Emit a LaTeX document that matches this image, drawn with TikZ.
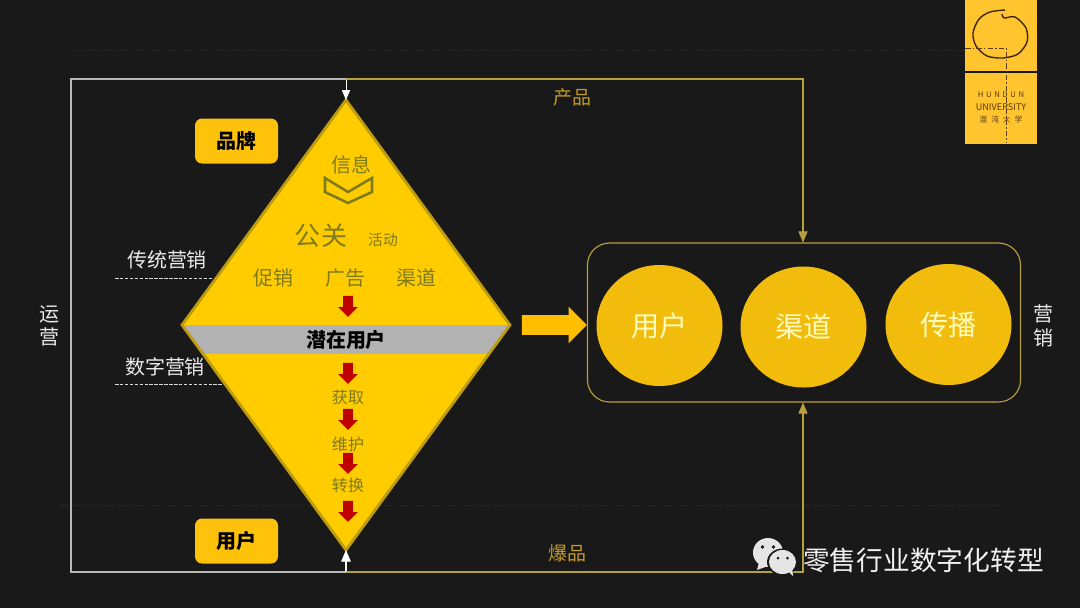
\documentclass[tikz,border=0pt]{standalone}
\usepackage{fontspec}
\setmainfont{Noto Sans CJK SC}
\usepackage{tikz}
\usetikzlibrary{arrows,shapes,positioning}

\definecolor{bgdark}{HTML}{191919}
\definecolor{coneyellow}{HTML}{FFCC00}
\definecolor{coneedge}{HTML}{BE9C10}
\definecolor{olive}{HTML}{7F7A1C}
\definecolor{gold}{HTML}{B9A03E}
\definecolor{goldtext}{HTML}{C39A24}
\definecolor{ballyellow}{HTML}{F2BC0C}
\definecolor{logoyellow}{HTML}{FFC42E}
\definecolor{logobrown}{HTML}{5A3A10}
\definecolor{tagyellow}{HTML}{FFC20A}
\definecolor{bigyellow}{HTML}{FFBE00}
\newcommand{\pxu}{0.025cm}

\tikzset{
    conetext/.style={text=olive, inner sep=0pt, font=\fontsize{14.2pt}{17pt}\selectfont},
    flowtext/.style={text=olive, inner sep=0pt, font=\fontsize{11.4pt}{14pt}\selectfont},
    sidetext/.style={text=white!92!black, inner sep=0pt, font=\fontsize{14.2pt}{17pt}\selectfont},
    linetext/.style={text=goldtext, inner sep=0pt, font=\fontsize{13.5pt}{17pt}\selectfont},
    tagbox/.style={rounded corners=5pt, fill=tagyellow, text=black, inner sep=0pt,
        minimum width=83*\pxu, minimum height=45*\pxu, font=\fontsize{14.2pt}{17pt}\selectfont\bfseries},
    ball/.style={ellipse, fill=ballyellow, text=yellow!25!white, inner sep=0pt,
        minimum width=126*\pxu, minimum height=121*\pxu, font=\fontsize{20pt}{24pt}\selectfont},
    redarrow/.style={single arrow, fill=red!75!black, inner sep=4.5*\pxu, shape border rotate=270,
        single arrow head extend=5*\pxu, single arrow head indent=0pt, minimum height=21*\pxu},
    faintline/.style={draw=white!6!bgdark, dash pattern=on 6pt off 2pt on 1pt off 2pt, line width=0.5pt}
}

\begin{document}
\begin{tikzpicture}[x=\pxu, y=-\pxu]
    \useasboundingbox (0,0) rectangle (1080,608);
    \fill[bgdark] (0,0) rectangle (1080,608);

    % faint guide lines
    \draw[faintline] (75,50) -- (965,50);
    \draw[faintline] (60,505) -- (1000,505);

    % cone corners and line corners
    \coordinate (conetop) at (346,100);
    \coordinate (coneleft) at (182,325);
    \coordinate (coneright) at (510,325);
    \coordinate (conebottom) at (346,550);
    \coordinate (topjoin) at (346,79);
    \coordinate (bottomjoin) at (346,572);
    \coordinate (topleft) at (71,79);
    \coordinate (bottomleft) at (71,572);
    \coordinate (topright) at (803,79);
    \coordinate (bottomright) at (803,572);

    % cone
    \fill[coneyellow] (conetop) -- (coneright) -- (conebottom) -- (coneleft) -- cycle;
    \begin{scope}
        \clip (conetop) -- (coneright) -- (conebottom) -- (coneleft) -- cycle;
        \fill[black!30] (170,325) rectangle (520,354);
    \end{scope}
    \draw[coneedge, line width=2pt, line join=miter] (conetop) -- (coneright) -- (conebottom) -- (coneleft) -- cycle;

    % upper half
    \node[conetext] (info) at (351,165) {信息};
    \draw[olive, line width=1.8pt] (325,178) -- (348,192) -- (372,178) -- (372,192) -- (348,203) -- (325,192) -- cycle;
    \node[conetext, font=\fontsize{18.5pt}{22pt}\selectfont] (pr) at (321,236) {公关};
    \node[flowtext, font=\fontsize{10.5pt}{13pt}\selectfont] (event) at (383,240) {活动};
    \node[conetext] (promo) at (273,278) {促销};
    \node[conetext] (ad) at (345,278) {广告};
    \node[conetext] (channel) at (416,278) {渠道};
    \node[redarrow] (arrowa) at (348,304) {};

    % band
    \node[inner sep=0pt, text=black, font=\fontsize{14.2pt}{17pt}\selectfont\bfseries] (potential) at (346,340) {潜在用户};

    % lower half
    \node[redarrow] (arrowb) at (348,371) {};
    \node[flowtext] (acquire) at (348,397) {获取};
    \node[redarrow] (arrowc) at (348,417) {};
    \node[flowtext] (retain) at (348,444) {维护};
    \node[redarrow] (arrowd) at (348,461) {};
    \node[flowtext] (convert) at (348,485) {转换};
    \node[redarrow] (arrowe) at (348,509) {};

    % tags
    \node[tagbox] (brand) at (236.5,141) {品牌};
    \node[tagbox] (users) at (236.5,541) {用户};

    % left labels
    \node[sidetext] (trad) at (167,260) {传统营销};
    \node[sidetext] (digital) at (165,367) {数字营销};
    \coordinate (tradstart) at (115,278);
    \coordinate (tradend) at (213,278);
    \coordinate (digitalstart) at (115,384);
    \coordinate (digitalend) at (222,384);
    \draw[white!85!black, line width=0.5pt, dash pattern=on 2.5pt off 1pt] (tradstart) -- (tradend);
    \draw[white!85!black, line width=0.5pt, dash pattern=on 2.5pt off 1pt] (digitalstart) -- (digitalend);
    \node[sidetext, align=center] (ops) at (49,326) {运\\营};

    % big arrow
    \node[single arrow, fill=bigyellow, inner sep=9.5*\pxu, single arrow head extend=8.5*\pxu,
        single arrow head indent=0pt, minimum height=65*\pxu] (bigarrow) at (549.5,325) {};

    % marketing box
    \node[draw=gold, line width=0.8pt, rounded corners=22*\pxu, inner sep=0pt,
        minimum width=433*\pxu, minimum height=159*\pxu] (marketbox) at (804,322.5) {};
    \node[ball] (ballusers) at (659.5,325.5) {用户};
    \node[ball] (ballchannel) at (803.5,327) {渠道};
    \node[ball] (ballspread) at (948.5,324.5) {传播};
    \node[sidetext, align=center] (market) at (1043,326) {营\\销};

    % feedback lines
    \draw[white!72!black, line width=0.9pt] (topjoin) -- (topleft) -- (bottomleft) -- (bottomjoin);
    \draw[white, -triangle 45, line width=0.6pt] (topjoin) -- (conetop);
    \draw[white, -triangle 45, line width=0.9pt] (bottomjoin) -- (conebottom);
    \draw[gold, -triangle 45, line width=0.8pt] (topjoin) -- (topright) -- (marketbox.north -| topright);
    \draw[gold, -triangle 45, line width=0.8pt] (bottomjoin) -- (bottomright) -- (marketbox.south -| bottomright);
    \node[linetext] (product) at (572,97) {产品};
    \node[linetext] (hit) at (567,553) {爆品};

    % logo
    \fill[logoyellow] (965,0) rectangle (1037,70.5);
    \fill[logoyellow] (965,72.5) rectangle (1037,143.5);
    \draw[logobrown!70!black, line width=1pt] plot[smooth] coordinates {(1002,14) (1004,18) (1015,17) (1026,28) (1027,42) (1018,54) (1003,58) (987,56) (976,46) (973,33) (979,19) (990,12) (1005,10)};
    \node[inner sep=0pt, text=logobrown, font=\fontsize{5.5pt}{6pt}\selectfont] (logoa) at (1001,95) {H\,\,U\,\,N\,\,D\,\,U\,\,N};
    \node[inner sep=0pt, text=logobrown, font=\fontsize{6.5pt}{7pt}\selectfont] (logob) at (1001,107) {UNIVERSITY};
    \node[inner sep=0pt, text=logobrown, font=\fontsize{5.5pt}{6pt}\selectfont] (logoc) at (1001,120) {混\,\,\,沌\,\,\,大\,\,\,学};
    \draw[draw=logobrown, dash pattern=on 4pt off 1.5pt on 1pt off 1.5pt, line width=0.4pt] (965,48) -- (1006,48) -- (1006,143);

    % wechat mark
    \fill[white!90!black] (768,552.5) ellipse (15 and 14.5);
    \fill[white!90!black] (759,562) -- (757,570) -- (768,566) -- cycle;
    \fill[bgdark] (762.5,547) circle (1.8);
    \fill[bgdark] (773.5,547) circle (1.8);
    \fill[bgdark] (782.5,562) ellipse (15.5 and 13.5);
    \fill[white!90!black] (782.5,562) ellipse (13.5 and 12);
    \fill[white!90!black] (787,570) -- (793,576) -- (792,566) -- cycle;
    \fill[bgdark] (778,558) circle (1.5);
    \fill[bgdark] (787.5,558) circle (1.5);
    \node[inner sep=0pt, text=white!95!black, font=\fontsize{19pt}{22pt}\selectfont] (wechat) at (923.5,560) {零售行业数字化转型};
\end{tikzpicture}
\end{document}
